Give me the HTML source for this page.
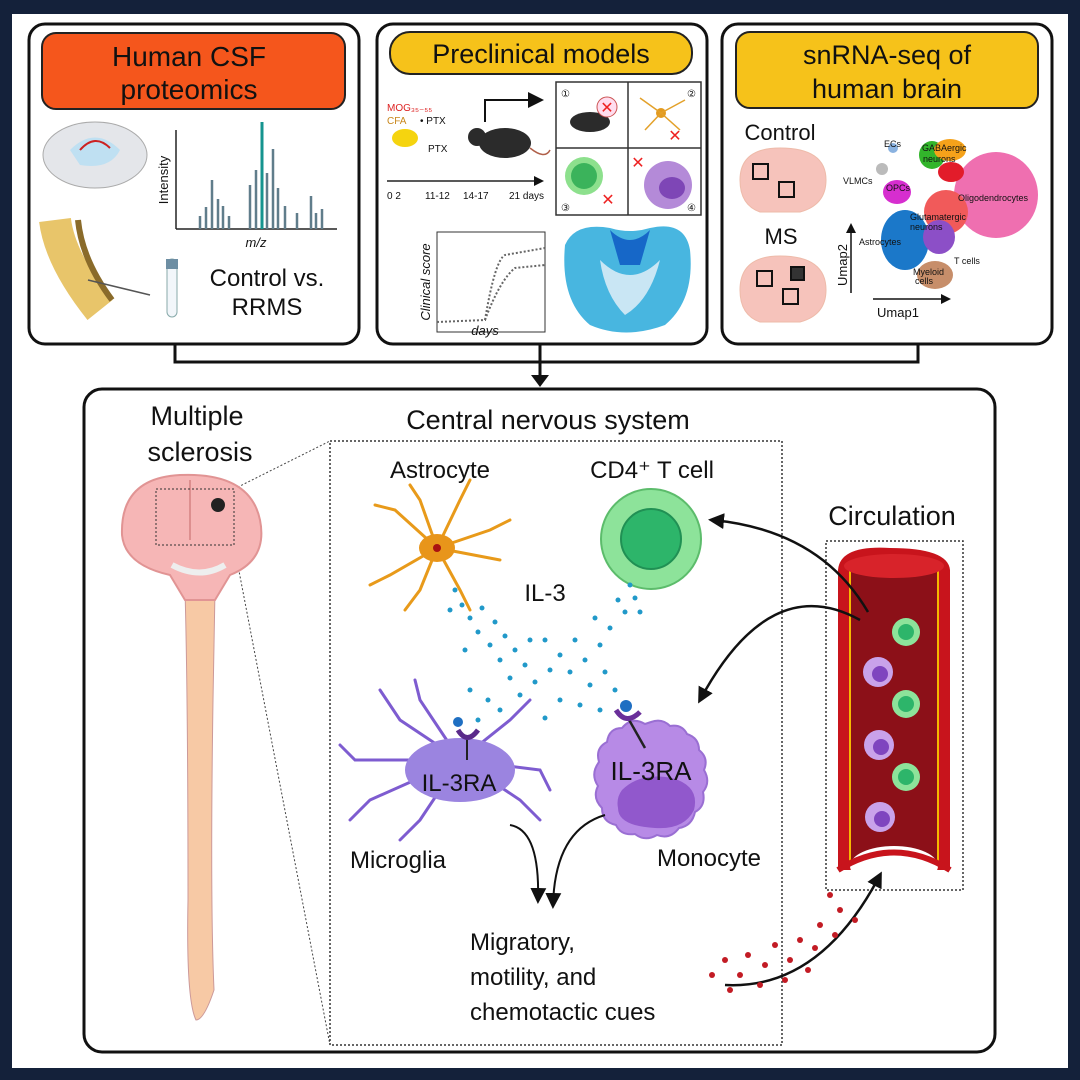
<!DOCTYPE html>
<html><head><meta charset="utf-8"><style>
html,body{margin:0;padding:0;background:#14213a;}
svg{display:block}
text{font-family:"Liberation Sans",sans-serif;fill:#111}
</style></head><body>
<svg width="1080" height="1080" viewBox="0 0 1080 1080" xmlns="http://www.w3.org/2000/svg">
<defs>
<marker id="ah" markerWidth="10" markerHeight="10" refX="8" refY="5" orient="auto" markerUnits="userSpaceOnUse"><path d="M0,0 L10,5 L0,10 z" fill="#111"/></marker>
<marker id="ah2" markerWidth="16" markerHeight="16" refX="12" refY="8" orient="auto" markerUnits="userSpaceOnUse"><path d="M0,0 L16,8 L0,16 z" fill="#111"/></marker>
</defs>
<rect x="0" y="0" width="1080" height="1080" fill="#14213a"/>
<rect x="12" y="14" width="1056" height="1054" fill="#ffffff"/>

<!-- Panel 1 -->
<rect x="29" y="24" width="330" height="320" rx="16" fill="#fff" stroke="#111" stroke-width="3"/>
<rect x="42" y="33" width="303" height="76" rx="14" fill="#f5561c" stroke="#222" stroke-width="2"/>
<text x="189" y="66" font-size="28" text-anchor="middle">Human CSF</text>
<text x="189" y="99" font-size="28" text-anchor="middle">proteomics</text>
<ellipse cx="95" cy="155" rx="52" ry="33" fill="#e4e6ea" stroke="#aaa"/>
<path d="M70,150 Q95,125 120,150 Q110,170 80,165z" fill="#bfe0f2"/>
<path d="M80,150 Q95,133 110,148" fill="none" stroke="#c22" stroke-width="2"/>
<path d="M55,220 Q60,260 100,310" stroke="#e8c56a" stroke-width="32" fill="none"/>
<path d="M78,220 Q82,260 112,300" stroke="#8a6b2a" stroke-width="6" fill="none"/>
<path d="M88,280 L150,295" stroke="#555" stroke-width="1.5"/>
<line x1="176" y1="130" x2="176" y2="229" stroke="#222" stroke-width="1.5"/>
<line x1="176" y1="229" x2="337" y2="229" stroke="#222" stroke-width="1.5"/>
<g stroke="#607d8b" stroke-width="2.5">
<line x1="200" y1="229" x2="200" y2="216"/><line x1="206" y1="229" x2="206" y2="207"/><line x1="212" y1="229" x2="212" y2="180"/><line x1="218" y1="229" x2="218" y2="199"/><line x1="223" y1="229" x2="223" y2="206"/><line x1="229" y1="229" x2="229" y2="216"/>
<line x1="250" y1="229" x2="250" y2="185"/><line x1="256" y1="229" x2="256" y2="170"/><line x1="267" y1="229" x2="267" y2="173"/><line x1="273" y1="229" x2="273" y2="149"/><line x1="278" y1="229" x2="278" y2="188"/><line x1="285" y1="229" x2="285" y2="206"/><line x1="297" y1="229" x2="297" y2="213"/><line x1="311" y1="229" x2="311" y2="196"/><line x1="316" y1="229" x2="316" y2="213"/><line x1="322" y1="229" x2="322" y2="209"/>
</g>
<line x1="262" y1="229" x2="262" y2="122" stroke="#15948f" stroke-width="3"/>
<text x="168" y="180" font-size="13" transform="rotate(-90 168 180)" text-anchor="middle">Intensity</text>
<text x="256" y="247" font-size="13" font-style="italic" text-anchor="middle">m/z</text>
<rect x="167" y="259" width="10" height="58" rx="5" fill="#f2f6fa" stroke="#8aa"/>
<rect x="166" y="259" width="12" height="10" fill="#6d8ea3"/>
<text x="267" y="286" font-size="24" text-anchor="middle">Control vs.</text>
<text x="267" y="315" font-size="24" text-anchor="middle">RRMS</text>

<!-- Panel 2 -->
<rect x="377" y="24" width="330" height="320" rx="16" fill="#fff" stroke="#111" stroke-width="3"/>
<rect x="390" y="32" width="302" height="42" rx="20" fill="#f6c21a" stroke="#222" stroke-width="2"/>
<text x="541" y="63" font-size="27" text-anchor="middle">Preclinical models</text>
<text x="387" y="111" font-size="10" style="fill:#d22">MOG₃₅₋₅₅</text>
<text x="387" y="124" font-size="10" style="fill:#c8861a">CFA</text><text x="420" y="124" font-size="10">• PTX</text>
<ellipse cx="405" cy="138" rx="13" ry="9" fill="#f5d40f"/>
<text x="428" y="152" font-size="10">PTX</text>
<line x1="387" y1="181" x2="542" y2="181" stroke="#222" stroke-width="1.5" marker-end="url(#ah)"/>
<text x="387" y="199" font-size="10">0 2</text><text x="425" y="199" font-size="10">11-12</text><text x="463" y="199" font-size="10">14-17</text><text x="509" y="199" font-size="10">21 days</text>
<ellipse cx="505" cy="143" rx="26" ry="15" fill="#2b2b2b"/><circle cx="477" cy="137" r="9" fill="#2b2b2b"/>
<path d="M530,148 Q545,160 550,150" stroke="#b0604a" fill="none" stroke-width="1.5"/>
<path d="M485,122 L485,100 L540,100" stroke="#111" stroke-width="2" fill="none" marker-end="url(#ah2)"/>
<rect x="556" y="82" width="145" height="133" fill="#fff" stroke="#333" stroke-width="1.5"/>
<line x1="628" y1="82" x2="628" y2="215" stroke="#333" stroke-width="1.5"/>
<line x1="556" y1="148" x2="701" y2="148" stroke="#333" stroke-width="1.5"/>
<ellipse cx="590" cy="122" rx="20" ry="10" fill="#2b2b2b"/>
<circle cx="607" cy="107" r="10" fill="#fde" stroke="#c55"/><text x="607" y="113" font-size="16" text-anchor="middle" style="fill:#e22">✕</text>
<circle cx="661" cy="113" r="5" fill="#e39a1f"/>
<g stroke="#e3a12a" stroke-width="1.5"><line x1="661" y1="113" x2="640" y2="98"/><line x1="661" y1="113" x2="685" y2="100"/><line x1="661" y1="113" x2="645" y2="130"/><line x1="661" y1="113" x2="680" y2="130"/></g>
<text x="675" y="141" font-size="16" text-anchor="middle" style="fill:#e22">✕</text>
<circle cx="584" cy="176" r="19" fill="#8de08d"/><circle cx="584" cy="176" r="13" fill="#3bb35b"/>
<text x="608" y="205" font-size="16" text-anchor="middle" style="fill:#e22">✕</text>
<circle cx="668" cy="185" r="24" fill="#b48ad8"/><ellipse cx="672" cy="188" rx="13" ry="11" fill="#7e46b6"/>
<text x="638" y="168" font-size="16" text-anchor="middle" style="fill:#e22">✕</text>
<g font-size="10"><text x="561" y="97">①</text><text x="687" y="97">②</text><text x="561" y="211">③</text><text x="687" y="211">④</text></g>
<rect x="437" y="232" width="108" height="100" fill="#fff" stroke="#333"/>
<path d="M437,322 L485,320 Q495,260 505,255 L545,248" fill="none" stroke="#666" stroke-width="2" stroke-dasharray="2 2"/>
<path d="M485,320 Q500,280 515,268 L545,265" fill="none" stroke="#666" stroke-width="2" stroke-dasharray="2 2"/>
<text x="430" y="282" font-size="13" font-style="italic" transform="rotate(-90 430 282)" text-anchor="middle">Clinical score</text>
<text x="485" y="335" font-size="13" font-style="italic" text-anchor="middle">days</text>
<path d="M565,245 Q575,222 610,228 Q630,234 650,228 Q685,220 690,250 Q695,300 665,325 Q625,340 590,325 Q560,300 565,245z" fill="#48b6e0"/>
<path d="M610,230 Q630,250 650,230 L640,265 L620,265z" fill="#1667c8"/>
<path d="M600,260 Q630,290 660,260 Q650,300 625,315 Q605,295 600,260z" fill="#c9e6f4"/>

<!-- Panel 3 -->
<rect x="722" y="24" width="330" height="320" rx="16" fill="#fff" stroke="#111" stroke-width="3"/>
<rect x="736" y="32" width="302" height="76" rx="14" fill="#f6c21a" stroke="#222" stroke-width="2"/>
<text x="887" y="64" font-size="27" text-anchor="middle">snRNA-seq of</text>
<text x="887" y="98" font-size="27" text-anchor="middle">human brain</text>
<text x="780" y="140" font-size="22" text-anchor="middle">Control</text>
<path d="M740,180 Q740,148 780,148 Q826,148 826,180 Q826,205 800,212 L760,212 Q740,205 740,180z" fill="#f6c3bb" stroke="#eba"/>
<rect x="753" y="164" width="15" height="15" fill="none" stroke="#111" stroke-width="2"/>
<rect x="779" y="182" width="15" height="15" fill="none" stroke="#111" stroke-width="2"/>
<text x="781" y="244" font-size="22" text-anchor="middle">MS</text>
<path d="M740,290 Q740,256 780,256 Q826,256 826,290 Q826,315 800,322 L760,322 Q740,315 740,290z" fill="#f6c3bb" stroke="#eba"/>
<rect x="757" y="271" width="15" height="15" fill="none" stroke="#111" stroke-width="2"/>
<rect x="791" y="267" width="13" height="13" fill="#333" stroke="#111" stroke-width="2"/>
<rect x="783" y="289" width="15" height="15" fill="none" stroke="#111" stroke-width="2"/>
<line x1="851" y1="293" x2="851" y2="225" stroke="#111" stroke-width="1.5" marker-end="url(#ah)"/>
<line x1="873" y1="299" x2="949" y2="299" stroke="#111" stroke-width="1.5" marker-end="url(#ah)"/>
<text x="847" y="265" font-size="13" transform="rotate(-90 847 265)" text-anchor="middle">Umap2</text>
<text x="898" y="317" font-size="13" text-anchor="middle">Umap1</text>
<ellipse cx="996" cy="195" rx="42" ry="43" fill="#ef6fb0"/>
<ellipse cx="905" cy="240" rx="24" ry="30" fill="#1b78c9"/>
<ellipse cx="946" cy="212" rx="22" ry="22" fill="#f15a5a"/>
<ellipse cx="939" cy="237" rx="16" ry="17" fill="#8c4fc7"/>
<ellipse cx="935" cy="275" rx="18" ry="14" fill="#c78e6a"/>
<ellipse cx="897" cy="192" rx="14" ry="12" fill="#d62ecf"/>
<ellipse cx="932" cy="155" rx="13" ry="14" fill="#32b52b"/>
<ellipse cx="950" cy="150" rx="16" ry="11" fill="#f5a21a"/>
<ellipse cx="951" cy="172" rx="13" ry="10" fill="#e21c2a"/>
<ellipse cx="882" cy="169" rx="6" ry="6" fill="#bbb"/>
<ellipse cx="893" cy="148" rx="5" ry="5" fill="#8ab2e0"/>
<g font-size="9"><text x="884" y="147">ECs</text><text x="922" y="151">GABAergic</text><text x="923" y="162">neurons</text><text x="843" y="184">VLMCs</text><text x="886" y="191">OPCs</text><text x="958" y="201">Oligodendrocytes</text><text x="910" y="220">Glutamatergic</text><text x="910" y="230">neurons</text><text x="859" y="245">Astrocytes</text><text x="913" y="275">Myeloid</text><text x="915" y="284">cells</text><text x="954" y="264">T cells</text></g>

<!-- connectors -->
<g stroke="#111" stroke-width="3" fill="none">
<path d="M175,345 L175,362 L918,362 L918,345"/>
<path d="M540,345 L540,380"/>
</g>
<path d="M531,375 L549,375 L540,387z" fill="#111"/>

<!-- Bottom panel -->
<rect x="84" y="389" width="911" height="663" rx="18" fill="#fff" stroke="#111" stroke-width="3"/>
<text x="197" y="425" font-size="27" text-anchor="middle">Multiple</text>
<text x="200" y="461" font-size="27" text-anchor="middle">sclerosis</text>
<text x="548" y="429" font-size="27" text-anchor="middle">Central nervous system</text>
<rect x="330" y="441" width="452" height="604" fill="none" stroke="#333" stroke-width="1.5" stroke-dasharray="2 2"/>
<line x1="234" y1="489" x2="330" y2="441" stroke="#444" stroke-dasharray="2 2"/>
<line x1="234" y1="545" x2="330" y2="1045" stroke="#444" stroke-dasharray="2 2"/>
<path d="M185,590 L215,590 L213,700 Q210,900 214,990 Q204,1020 196,1020 Q186,1000 188,900 Q188,700 185,590z" fill="#f7c9a5" stroke="#c99" />
<path d="M122,535 Q120,478 180,475 Q250,472 260,520 Q268,560 230,575 L215,600 L185,600 L170,575 Q125,565 122,535z" fill="#f6b6b6" stroke="#e19494" stroke-width="2"/>
<path d="M190,480 L190,540" stroke="#dd8f8f" stroke-width="2"/>
<path d="M172,565 Q200,580 225,565" stroke="#eee" stroke-width="6" fill="none"/>
<rect x="156" y="489" width="78" height="56" fill="none" stroke="#333" stroke-dasharray="2 2"/>
<circle cx="218" cy="505" r="7" fill="#222"/>
<!-- astrocyte -->
<text x="440" y="478" font-size="24" text-anchor="middle">Astrocyte</text>
<g stroke="#e89a1a" stroke-width="3" fill="none" stroke-linecap="round">
<path d="M437,548 L395,510 L375,505"/><path d="M437,548 L420,500 L410,485"/><path d="M437,548 L460,500 L470,480"/><path d="M437,548 L490,530 L510,520"/><path d="M437,548 L390,575 L370,585"/><path d="M437,548 L420,590 L405,610"/><path d="M437,548 L460,590 L470,610"/><path d="M437,548 L500,560"/>
</g>
<ellipse cx="437" cy="548" rx="18" ry="14" fill="#e8951a"/><circle cx="437" cy="548" r="4" fill="#a11"/>
<!-- CD4 T cell -->
<text x="652" y="478" font-size="24" text-anchor="middle">CD4⁺ T cell</text>
<circle cx="651" cy="539" r="50" fill="#8de39a" stroke="#5cbc6b" stroke-width="2"/>
<circle cx="651" cy="539" r="30" fill="#2db56a" stroke="#209054" stroke-width="2"/>
<text x="545" y="601" font-size="24" text-anchor="middle">IL-3</text>
<g fill="#2199c9">
<circle cx="455" cy="590" r="2.5"/><circle cx="462" cy="605" r="2.5"/><circle cx="470" cy="618" r="2.5"/><circle cx="482" cy="608" r="2.5"/><circle cx="495" cy="622" r="2.5"/><circle cx="478" cy="632" r="2.5"/><circle cx="505" cy="636" r="2.5"/><circle cx="490" cy="645" r="2.5"/><circle cx="515" cy="650" r="2.5"/><circle cx="500" cy="660" r="2.5"/><circle cx="525" cy="665" r="2.5"/><circle cx="510" cy="678" r="2.5"/><circle cx="535" cy="682" r="2.5"/><circle cx="520" cy="695" r="2.5"/><circle cx="500" cy="710" r="2.5"/><circle cx="488" cy="700" r="2.5"/><circle cx="470" cy="690" r="2.5"/><circle cx="478" cy="720" r="2.5"/><circle cx="545" cy="640" r="2.5"/><circle cx="560" cy="655" r="2.5"/><circle cx="575" cy="640" r="2.5"/><circle cx="585" cy="660" r="2.5"/><circle cx="600" cy="645" r="2.5"/><circle cx="610" cy="628" r="2.5"/><circle cx="625" cy="612" r="2.5"/><circle cx="635" cy="598" r="2.5"/><circle cx="618" cy="600" r="2.5"/><circle cx="595" cy="618" r="2.5"/><circle cx="570" cy="672" r="2.5"/><circle cx="590" cy="685" r="2.5"/><circle cx="605" cy="672" r="2.5"/><circle cx="615" cy="690" r="2.5"/><circle cx="560" cy="700" r="2.5"/><circle cx="580" cy="705" r="2.5"/><circle cx="600" cy="710" r="2.5"/><circle cx="545" cy="718" r="2.5"/><circle cx="630" cy="585" r="2.5"/><circle cx="640" cy="612" r="2.5"/><circle cx="450" cy="610" r="2.5"/><circle cx="465" cy="650" r="2.5"/><circle cx="530" cy="640" r="2.5"/><circle cx="550" cy="670" r="2.5"/>
</g>
<!-- microglia -->
<g stroke="#7e5cd0" stroke-width="3" fill="none" stroke-linecap="round">
<path d="M460,760 L400,720 L380,690"/><path d="M460,760 L420,700 L415,680"/><path d="M460,760 L355,760 L340,745"/><path d="M460,760 L370,800 L350,820"/><path d="M460,760 L420,820 L400,840"/><path d="M460,760 L520,800 L540,820"/><path d="M460,760 L540,770 L550,790"/><path d="M460,760 L510,720 L530,700"/>
</g>
<ellipse cx="460" cy="770" rx="55" ry="32" fill="#9b84e0"/>
<path d="M467,760 L467,735" stroke="#222" stroke-width="2"/>
<path d="M458,730 Q467,745 478,730" stroke="#5a2a8a" stroke-width="5" fill="none"/>
<circle cx="458" cy="722" r="5" fill="#1f6fc2"/>
<text x="459" y="791" font-size="24" text-anchor="middle">IL-3RA</text>
<text x="398" y="868" font-size="24" text-anchor="middle">Microglia</text>
<!-- monocyte -->
<path d="M651,722 Q662,718 670,726 Q682,724 687,734 Q699,738 699,750 Q709,758 704,770 Q711,782 703,792 Q706,806 695,812 Q692,826 679,828 Q670,840 657,835 Q645,842 635,834 Q621,836 616,825 Q602,822 602,808 Q592,798 598,786 Q590,774 599,762 Q595,748 607,742 Q609,728 622,728 Q632,716 645,724 Z" fill="#b78ae6" stroke="#9a6fd3" stroke-width="2"/>
<path d="M622,790 Q640,772 672,778 Q700,786 694,810 Q684,830 655,828 Q618,826 618,808 Q616,798 622,790z" fill="#9158cc"/>
<path d="M628,718 L645,748" stroke="#222" stroke-width="2.5"/>
<path d="M616,710 Q626,726 640,712" stroke="#6a2f9a" stroke-width="5" fill="none"/>
<circle cx="626" cy="706" r="6" fill="#1f6fc2"/>
<text x="651" y="780" font-size="26" text-anchor="middle">IL-3RA</text>
<text x="709" y="866" font-size="24" text-anchor="middle">Monocyte</text>
<!-- arrows to cues -->
<path d="M510,825 Q540,830 538,900" stroke="#111" stroke-width="2" fill="none" marker-end="url(#ah2)"/>
<path d="M605,815 Q555,830 553,905" stroke="#111" stroke-width="2" fill="none" marker-end="url(#ah2)"/>
<text x="470" y="950" font-size="24">Migratory,</text>
<text x="470" y="985" font-size="24">motility, and</text>
<text x="470" y="1020" font-size="24">chemotactic cues</text>
<!-- circulation -->
<text x="892" y="525" font-size="27" text-anchor="middle">Circulation</text>
<rect x="826" y="541" width="137" height="349" fill="none" stroke="#333" stroke-width="1.5" stroke-dasharray="2 2"/>
<path d="M838,570 Q840,545 890,548 Q948,548 950,570 L950,870 L838,870z" fill="#c8141c"/>
<path d="M850,565 L850,865 L938,865 L938,565z" fill="#8c1018" stroke="#f5b800" stroke-width="2"/>
<ellipse cx="894" cy="566" rx="50" ry="12" fill="#d8232a"/>
<ellipse cx="894" cy="866" rx="44" ry="20" fill="#fff"/>
<path d="M838,870 Q894,835 950,870" fill="none" stroke="#c8141c" stroke-width="6"/>
<g><circle cx="906" cy="632" r="14" fill="#8de39a"/><circle cx="906" cy="632" r="8" fill="#2db56a"/>
<circle cx="906" cy="704" r="14" fill="#8de39a"/><circle cx="906" cy="704" r="8" fill="#2db56a"/>
<circle cx="906" cy="777" r="14" fill="#8de39a"/><circle cx="906" cy="777" r="8" fill="#2db56a"/>
<circle cx="878" cy="672" r="15" fill="#c9a2ea"/><circle cx="880" cy="674" r="8" fill="#7f45bf"/>
<circle cx="879" cy="745" r="15" fill="#c9a2ea"/><circle cx="881" cy="747" r="8" fill="#7f45bf"/>
<circle cx="880" cy="817" r="15" fill="#c9a2ea"/><circle cx="882" cy="819" r="8" fill="#7f45bf"/></g>
<path d="M868,612 Q820,530 712,520" stroke="#111" stroke-width="2.5" fill="none" marker-end="url(#ah2)"/>
<path d="M860,620 Q770,570 700,700" stroke="#111" stroke-width="2.5" fill="none" marker-end="url(#ah2)"/>
<path d="M725,985 Q820,990 880,875" stroke="#111" stroke-width="2.5" fill="none" marker-end="url(#ah2)"/>
<g fill="#c21b24">
<circle cx="712" cy="975" r="3"/><circle cx="725" cy="960" r="3"/><circle cx="740" cy="975" r="3"/><circle cx="748" cy="955" r="3"/><circle cx="765" cy="965" r="3"/><circle cx="775" cy="945" r="3"/><circle cx="790" cy="960" r="3"/><circle cx="800" cy="940" r="3"/><circle cx="815" cy="948" r="3"/><circle cx="820" cy="925" r="3"/><circle cx="835" cy="935" r="3"/><circle cx="840" cy="910" r="3"/><circle cx="855" cy="920" r="3"/><circle cx="730" cy="990" r="3"/><circle cx="760" cy="985" r="3"/><circle cx="785" cy="980" r="3"/><circle cx="808" cy="970" r="3"/><circle cx="830" cy="895" r="3"/>
</g>
</svg>
</body></html>
